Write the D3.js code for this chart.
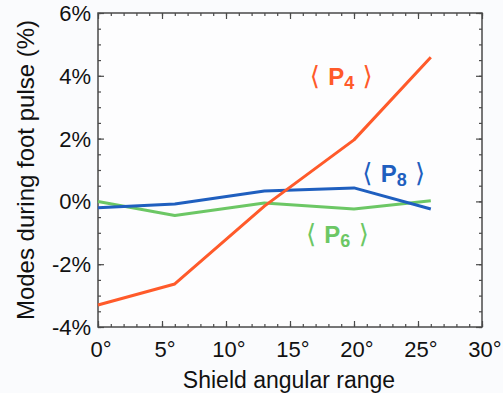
<!DOCTYPE html>
<html>
<head>
<meta charset="utf-8">
<script src="https://cdn.jsdelivr.net/npm/d3@7"></script>
<style>
  html, body { margin: 0; padding: 0; background: #fafbfd; }
  svg { display: block; font-family: "Liberation Sans", Arial, sans-serif; }
</style>
</head>
<body>
<script>
// Shield angular range (degrees)
const angles = [0, 6, 13, 20, 26];

// Mode amplitudes (%)
const p4 = [-3.3, -2.63, -0.15, 1.96, 4.59];
const p6 = [0.0, -0.45, -0.05, -0.24, 0.02];
const p8 = [-0.2, -0.08, 0.33, 0.43, -0.24];

const xTicks = [0, 5, 10, 15, 20, 25, 30];
const yTicks = [-4, -2, 0, 2, 4, 6];

const W = 503, H = 393;
const margin = { top: 13, right: 21, bottom: 66, left: 98 };
const width = W - margin.left - margin.right;
const height = H - margin.top - margin.bottom;

const svg = d3.select('body').append('svg')
  .attr('width', W)
  .attr('height', H);

const g = svg.append('g')
  .attr('transform', `translate(${margin.left},${margin.top})`);

const x = d3.scaleLinear().domain([0, 30]).range([0, width]);
const y = d3.scaleLinear().domain([-4, 6]).range([height, 0]);

// plot area
g.append('rect')
  .attr('width', width)
  .attr('height', height)
  .attr('fill', '#fdfdfe');

// minor and major ticks, all pointing inward
const axisColor = '#4a4a4a';
const xMinor = d3.range(0, 31, 1);
const yMinor = d3.range(-4, 6.01, 0.5);

function drawTicks(sel, axisFn, scale, values, size) {
  sel.call(axisFn(scale).tickValues(values).tickSize(size).tickFormat(''));
  sel.select('.domain').remove();
  sel.selectAll('line').attr('stroke', axisColor).attr('stroke-width', 1.2);
}

// bottom
drawTicks(g.append('g').attr('transform', `translate(0,${height})`), d3.axisTop, x, xMinor, 3);
drawTicks(g.append('g').attr('transform', `translate(0,${height})`), d3.axisTop, x, xTicks, 6);
// top
drawTicks(g.append('g'), d3.axisBottom, x, xMinor, 3);
drawTicks(g.append('g'), d3.axisBottom, x, xTicks, 6);
// left
drawTicks(g.append('g'), d3.axisRight, y, yMinor, 3);
drawTicks(g.append('g'), d3.axisRight, y, yTicks, 6);
// right
drawTicks(g.append('g').attr('transform', `translate(${width},0)`), d3.axisLeft, y, yMinor, 3);
drawTicks(g.append('g').attr('transform', `translate(${width},0)`), d3.axisLeft, y, yTicks, 6);

// frame
g.append('rect')
  .attr('width', width)
  .attr('height', height)
  .attr('fill', 'none')
  .attr('stroke', axisColor)
  .attr('stroke-width', 1.5);

// tick labels
g.selectAll('.xlab')
  .data(xTicks)
  .enter().append('text')
  .attr('class', 'xlab')
  .attr('x', d => x(d) + 3)
  .attr('y', height + 30)
  .attr('text-anchor', 'middle')
  .style('font-size', '22px')
  .style('fill', '#111')
  .text(d => d + '°');

g.selectAll('.ylab')
  .data(yTicks)
  .enter().append('text')
  .attr('class', 'ylab')
  .attr('x', -7)
  .attr('y', d => y(d) + 8)
  .attr('text-anchor', 'end')
  .style('font-size', '22px')
  .style('fill', '#111')
  .text(d => d + '%');

// axis titles
svg.append('text')
  .attr('x', margin.left + width / 2 - 1)
  .attr('y', 388)
  .attr('text-anchor', 'middle')
  .style('font-size', '23px')
  .style('fill', '#111')
  .text('Shield angular range');

svg.append('text')
  .attr('transform', `translate(34,${margin.top + height / 2}) rotate(-90)`)
  .attr('text-anchor', 'middle')
  .style('font-size', '24px')
  .style('fill', '#111')
  .text('Modes during foot pulse (%)');

// lines
const series = [
  { name: 'P6', values: p6, color: '#6cc765' },
  { name: 'P8', values: p8, color: '#1f5fbf' },
  { name: 'P4', values: p4, color: '#ff5a2a' }
];

const line = d3.line()
  .x((d, i) => x(angles[i]))
  .y(d => y(d));

g.selectAll('.series')
  .data(series)
  .enter().append('path')
  .attr('class', 'series')
  .attr('d', d => line(d.values))
  .attr('fill', 'none')
  .attr('stroke', d => d.color)
  .attr('stroke-width', 3)
  .attr('stroke-linejoin', 'round');

// series labels
const labels = [
  { base: 'P', sub: '4', color: '#ff5a2a', x: 19.0, y: 3.71 },
  { base: 'P', sub: '8', color: '#1f5fbf', x: 23.1, y: 0.62 },
  { base: 'P', sub: '6', color: '#6cc765', x: 18.7, y: -1.32 }
];

labels.forEach(l => {
  const t = g.append('text')
    .attr('x', x(l.x))
    .attr('y', y(l.y))
    .attr('text-anchor', 'middle')
    .style('fill', l.color)
    .style('font-size', '24px')
    .style('font-weight', 'bold');
  t.append('tspan').style('font-weight', 'normal').style('font-family', 'DejaVu Sans').style('font-size', '26px').text('⟨ ');
  t.append('tspan').text(l.base);
  t.append('tspan').attr('dy', 4).style('font-size', '18px').text(l.sub);
  t.append('tspan').attr('dy', -4).style('font-weight', 'normal').style('font-family', 'DejaVu Sans').style('font-size', '26px').text(' ⟩');
});
</script>
</body>
</html>
